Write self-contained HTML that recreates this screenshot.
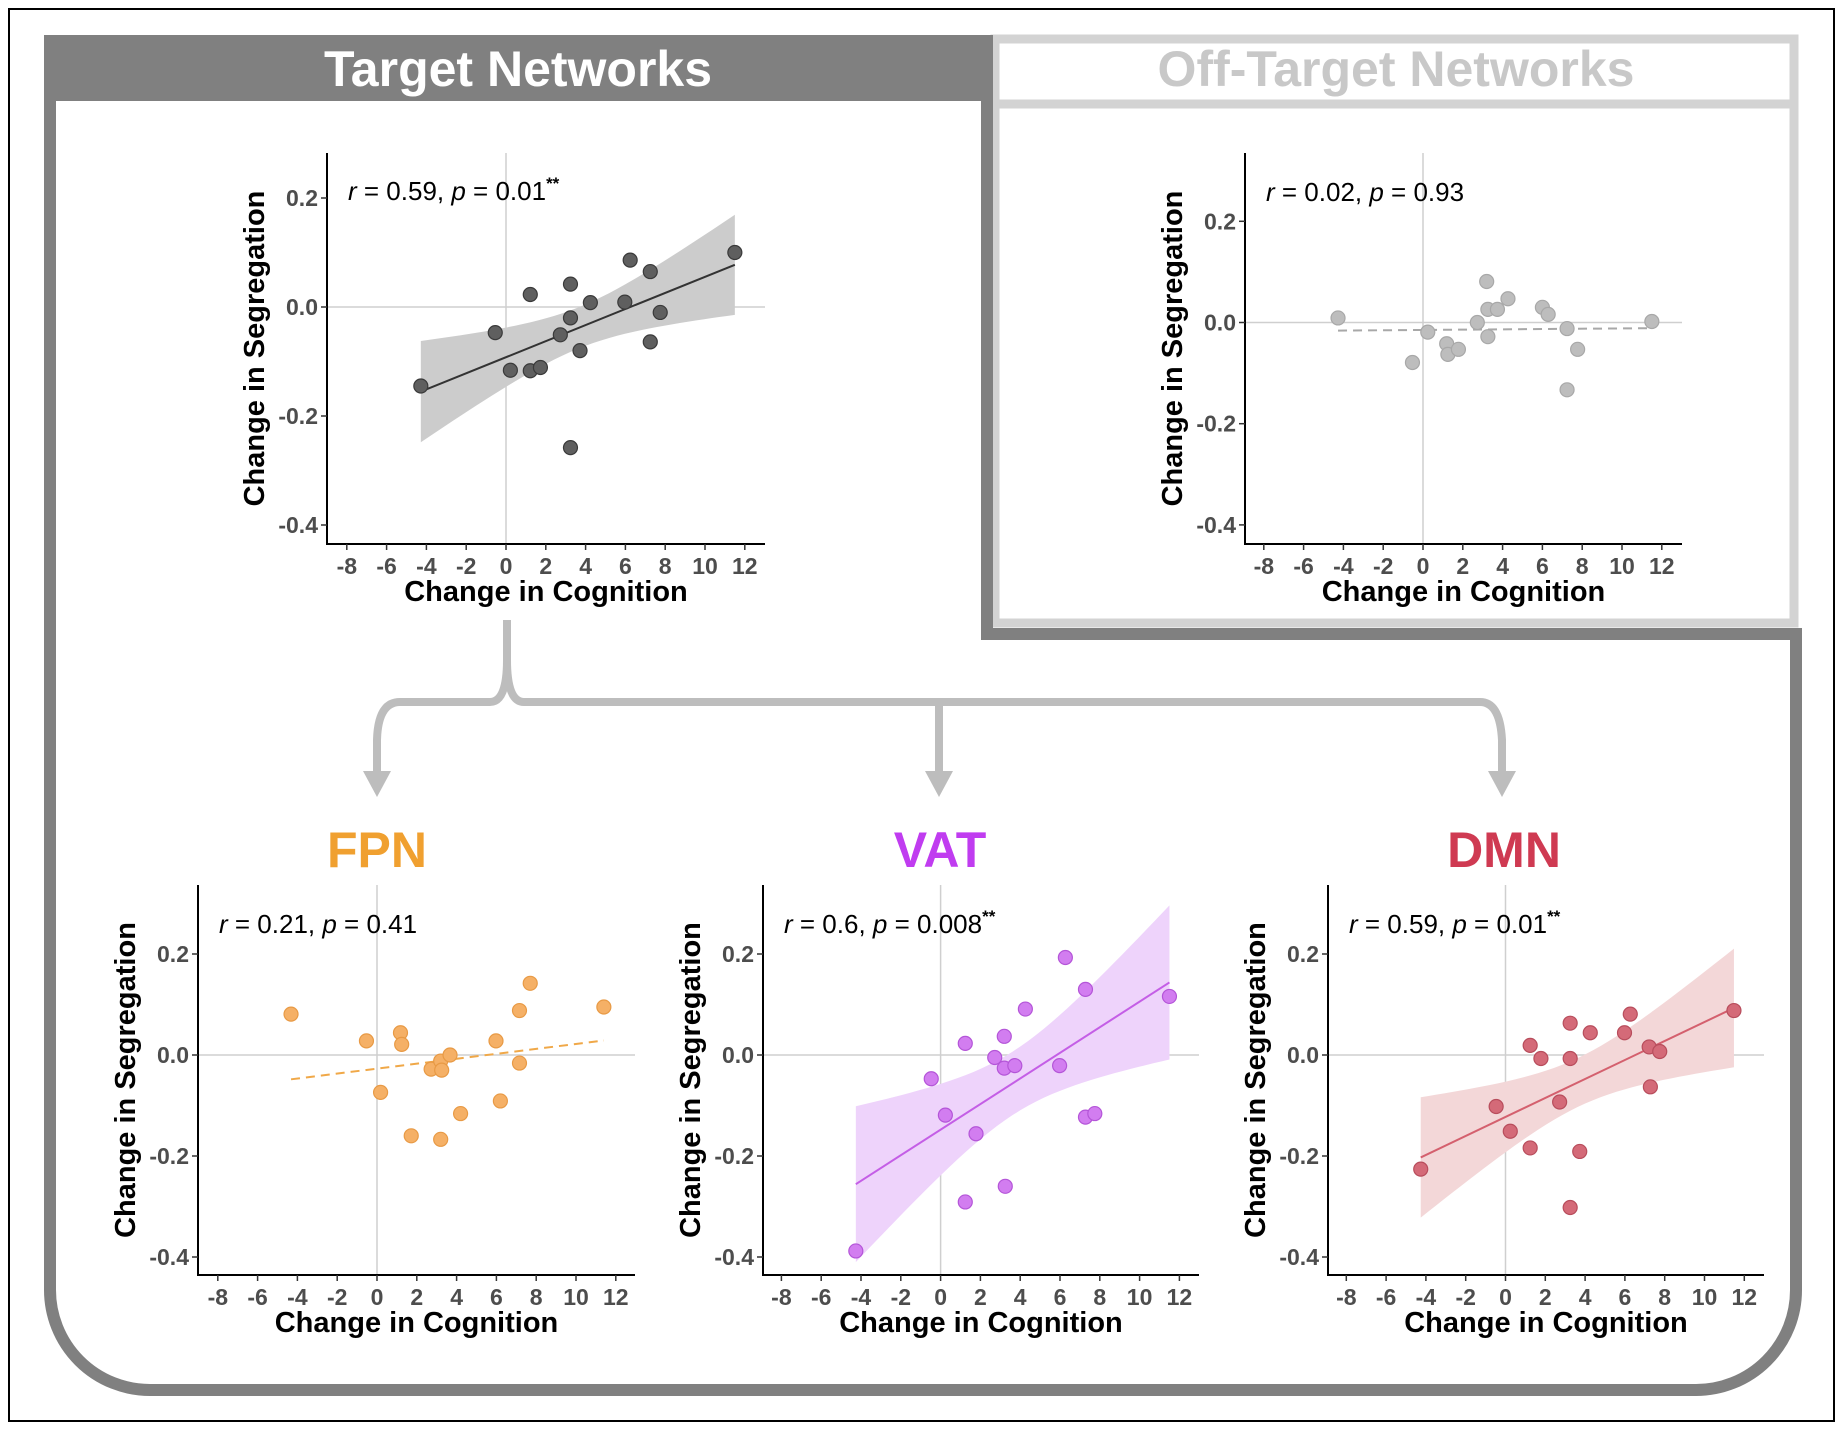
<!DOCTYPE html>
<html><head><meta charset="utf-8"><style>
html,body{margin:0;padding:0;background:#fff;}
svg{display:block;font-family:"Liberation Sans",sans-serif;}
</style></head><body>
<svg id="fig" width="1846" height="1430" viewBox="0 0 1846 1430" xmlns="http://www.w3.org/2000/svg">
<rect x="9" y="9" width="1825" height="1412" fill="#fff" stroke="#000" stroke-width="2"/>
<rect x="995" y="39" width="799" height="584" fill="none" stroke="#d3d3d3" stroke-width="9"/>
<line x1="995" y1="104" x2="1794" y2="104" stroke="#d3d3d3" stroke-width="9"/>
<text x="1396" y="86" font-size="50" font-weight="bold" fill="#c8c8c8" text-anchor="middle">Off-Target Networks</text>
<path d="M50,100 V1290 A100,100 0 0 0 150,1390 H1696 A100,100 0 0 0 1796,1290 V634 H987 V100" fill="none" stroke="#808080" stroke-width="12"/>
<rect x="44" y="35" width="949" height="66" fill="#808080"/>
<text x="518" y="86" font-size="50" font-weight="bold" fill="#fff" text-anchor="middle">Target Networks</text>
<g fill="none" stroke="#bdbdbd" stroke-width="8">
<path d="M507,620 V660 Q507,702 490,702 H400 Q378,702 377,740 V780"/>
<path d="M507,660 Q507,702 524,702 H1480 Q1500,702 1502,740 V780"/>
<path d="M939,702 V780"/>
</g>
<g fill="#bdbdbd">
<polygon points="363,771 391,771 377,797"/>
<polygon points="925,771 953,771 939,797"/>
<polygon points="1488,771 1516,771 1502,797"/>
</g>
<text x="377" y="867" font-size="50" font-weight="bold" fill="#f0a030" text-anchor="middle">FPN</text>
<text x="940" y="867" font-size="50" font-weight="bold" fill="#c03cf0" text-anchor="middle">VAT</text>
<text x="1504" y="867" font-size="50" font-weight="bold" fill="#cf3a52" text-anchor="middle">DMN</text>
<g id="plots"></g>
</svg>
<script>
const xTicks=[-8,-6,-4,-2,0,2,4,6,8,10,12];
const yTicks=[0.2,0.0,-0.2,-0.4];
const yTickLabels=["0.2","0.0","-0.2","-0.4"];
const tgtX=[-4.28,-0.54,0.22,1.22,1.22,1.73,2.73,3.24,3.24,3.24,3.72,4.24,5.97,6.24,7.25,7.25,7.75,11.5];
const tgtY=[-0.145,-0.047,-0.116,0.023,-0.117,-0.111,-0.051,0.042,-0.020,-0.258,-0.080,0.008,0.009,0.086,0.065,-0.064,-0.010,0.100];
const offX=[-4.27,-0.53,0.24,1.19,1.25,1.78,2.73,3.2,3.26,3.26,3.74,4.27,6.0,6.29,7.24,7.24,7.77,11.5];
const offY=[0.009,-0.079,-0.019,-0.042,-0.063,-0.053,0,0.081,0.026,-0.028,0.026,0.047,0.03,0.016,-0.012,-0.133,-0.053,0.002];
const fpnX=[-4.32,-0.53,0.18,1.18,1.24,1.72,2.72,3.2,3.2,3.25,3.67,4.2,5.98,6.2,7.16,7.16,7.7,11.4];
const fpnY=[0.081,0.028,-0.074,0.044,0.021,-0.160,-0.028,-0.012,-0.167,-0.030,0,-0.116,0.028,-0.091,0.088,-0.016,0.142,0.095];
const vatX=[-4.26,-0.47,0.24,1.24,1.24,1.78,2.72,3.2,3.2,3.25,3.73,4.26,5.98,6.27,7.28,7.28,7.75,11.5];
const vatY=[-0.388,-0.047,-0.119,0.023,-0.291,-0.156,-0.005,0.037,-0.026,-0.26,-0.021,0.091,-0.021,0.193,0.13,-0.123,-0.116,0.116];
const dmnX=[-4.26,-0.47,0.24,1.24,1.24,1.78,2.72,3.25,3.25,3.25,3.73,4.26,5.98,6.27,7.22,7.28,7.75,11.48];
const dmnY=[-0.226,-0.102,-0.151,0.019,-0.184,-0.007,-0.093,0.063,-0.007,-0.302,-0.191,0.044,0.044,0.081,0.016,-0.063,0.007,0.088];

const NS="http://www.w3.org/2000/svg";
const root=document.getElementById('plots');
function mk(tag,attrs,parent){const e=document.createElementNS(NS,tag);for(const k in attrs)e.setAttribute(k,attrs[k]);(parent||root).appendChild(e);return e;}

function panel(cfg){
  const g=mk('g',{});
  
  
  const sx=v=>cfg.x0+v*19.9;
  const sy=v=>cfg.y0-v*cfg.py;
  const L=cfg.ax,B=cfg.by,T=cfg.top,R=cfg.right;
  let l=mk('line',{x1:sx(0),x2:sx(0),y1:T,y2:B,stroke:'#cfcfcf','stroke-width':1.5},g);
  
  
  l=mk('line',{x1:L,x2:R,y1:sy(0),y2:sy(0),stroke:'#cfcfcf','stroke-width':1.5},g);
  
  
  const xs=cfg.xs,ys=cfg.ys,n=xs.length;
  const mx=xs.reduce((a,b)=>a+b)/n,my=ys.reduce((a,b)=>a+b)/n;
  let sxx=0,sxy=0;for(let i=0;i<n;i++){sxx+=(xs[i]-mx)**2;sxy+=(xs[i]-mx)*(ys[i]-my);}
  const b=sxy/sxx,a=my-b*mx;
  let sse=0;for(let i=0;i<n;i++)sse+=(ys[i]-a-b*xs[i])**2;
  const s=Math.sqrt(sse/(n-2)),t=2.12;
  const xmin=Math.min(...xs),xmax=Math.max(...xs);
  if(cfg.band){
    const up=[],lo=[];
    for(let k=0;k<=40;k++){const x=xmin+(xmax-xmin)*k/40;const f=a+b*x;const se=s*Math.sqrt(1/n+(x-mx)**2/sxx);
      up.push(sx(x)+','+sy(f+t*se));lo.unshift(sx(x)+','+sy(f-t*se));}
    const p=mk('polygon',{points:up.concat(lo).join(' '),fill:cfg.band},g);
    
    
  }
  const rl=mk('line',{x1:sx(xmin),y1:sy(a+b*xmin),x2:sx(xmax),y2:sy(a+b*xmax),stroke:cfg.line,'stroke-width':2,'stroke-dasharray':cfg.dash?'9,6':'none'},g);
  
  
  for(let i=0;i<n;i++){
    const c=mk('circle',{cx:sx(xs[i]),cy:sy(ys[i]),r:7,fill:cfg.pt,stroke:cfg.ptS,'stroke-width':1.2},g);
    
    
  }
  const ax=mk('path',{d:`M${L},${T} V${B} H${R}`,fill:'none',stroke:'#000','stroke-width':2},g);
  
  
  xTicks.forEach(v=>{
    mk('line',{x1:sx(v),x2:sx(v),y1:B,y2:B+6,stroke:'#333','stroke-width':1.5},g);
    const tx=mk('text',{x:sx(v),y:B+30,'font-size':23,'font-weight':'bold',fill:'#4d4d4d','text-anchor':'middle'},g);
    tx.textContent=v;
    
    
  });
  yTicks.forEach((v,i)=>{
    mk('line',{x1:L-6,x2:L,y1:sy(v),y2:sy(v),stroke:'#333','stroke-width':1.5},g);
    const tx=mk('text',{x:L-9,y:sy(v)+8,'font-size':23,'font-weight':'bold',fill:'#4d4d4d','text-anchor':'end'},g);
    tx.textContent=yTickLabels[i];
    
    
  });
  const xt=mk('text',{x:(L+R)/2,y:B+57,'font-size':29,'font-weight':'bold',fill:'#000','text-anchor':'middle'},g);
  xt.textContent='Change in Cognition';
  
  
  const cy=(T+B)/2;
  const yt=mk('text',{x:L-63,y:cy,'font-size':29,'font-weight':'bold',fill:'#000','text-anchor':'middle',transform:`rotate(-90 ${L-63} ${cy})`},g);
  yt.textContent='Change in Segregation';
  
  
  const an=mk('text',{x:L+21,y:cfg.annY,'font-size':26,fill:'#000'},g);
  an.innerHTML=cfg.ann;
  
  
}
const stars='<tspan dy="-11" font-size="17" font-weight="bold">**</tspan>';
panel({name:'target',xs:tgtX,ys:tgtY,x0:506,y0:307,py:545,ax:327,by:544,top:153,right:765,annY:200,
  pt:'#5f5f5f',ptS:'#3a3a3a',line:'#333',band:'#cccccc',ann:'<tspan font-style="italic">r</tspan> = 0.59, <tspan font-style="italic">p</tspan> = 0.01'+stars});
panel({name:'off-target',xs:offX,ys:offY,x0:1423,y0:322.5,py:506,ax:1245,by:544,top:153,right:1682,annY:201,
  pt:'#bdbdbd',ptS:'#a8a8a8',line:'#a8a8a8',dash:true,ann:'<tspan font-style="italic">r</tspan> = 0.02, <tspan font-style="italic">p</tspan> = 0.93'});
panel({name:'fpn',xs:fpnX,ys:fpnY,x0:377,y0:1055,py:505,ax:198,by:1275,top:885,right:635,annY:933,
  pt:'#f5b066',ptS:'#e89a45',line:'#f0a848',dash:true,ann:'<tspan font-style="italic">r</tspan> = 0.21, <tspan font-style="italic">p</tspan> = 0.41'});
panel({name:'vat',xs:vatX,ys:vatY,x0:940.6,y0:1055,py:505,ax:763,by:1275,top:885,right:1199,annY:933,
  pt:'#d27df0',ptS:'#b455d8',line:'#c45ee6',band:'#eed3fb',ann:'<tspan font-style="italic">r</tspan> = 0.6, <tspan font-style="italic">p</tspan> = 0.008'+stars});
panel({name:'dmn',xs:dmnX,ys:dmnY,x0:1505.5,y0:1055,py:505,ax:1328,by:1275,top:885,right:1764,annY:933,
  pt:'#d46a78',ptS:'#b84d5c',line:'#d4606e',band:'#f3d7d8',ann:'<tspan font-style="italic">r</tspan> = 0.59, <tspan font-style="italic">p</tspan> = 0.01'+stars});
</script>
</body></html>
